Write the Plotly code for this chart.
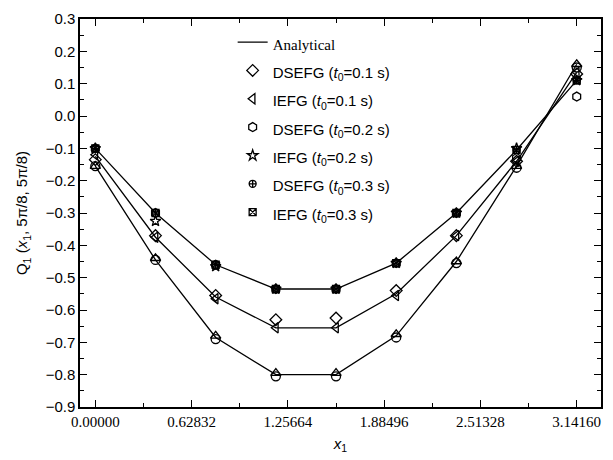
import numpy as np
import plotly.graph_objects as go

pi = np.pi
x = [k * pi / 8 for k in range(9)]

# Analytical curves
ana_top = [-0.10, -0.30, -0.46, -0.535, -0.535, -0.455, -0.30, -0.105, 0.11]
ana_mid = [-0.125, -0.375, -0.56, -0.655, -0.655, -0.55, -0.37, -0.14, 0.135]
ana_bot = [-0.155, -0.445, -0.685, -0.80, -0.80, -0.68, -0.45, -0.155, 0.16]

# Numerical results
dsefg_01 = [-0.135, -0.37, -0.555, -0.63, -0.625, -0.54, -0.37, -0.14, 0.13]
iefg_01 = [-0.12, -0.375, -0.565, -0.655, -0.655, -0.555, -0.37, -0.14, 0.135]
dsefg_02 = [-0.10, -0.30, -0.46, -0.535, -0.535, -0.455, -0.30, -0.13, 0.06]
iefg_02 = [-0.10, -0.325, -0.465, -0.535, -0.535, -0.455, -0.30, -0.10, 0.11]
dsefg_03 = [-0.10, -0.30, -0.46, -0.535, -0.535, -0.455, -0.30, -0.105, 0.11]
iefg_03 = [-0.10, -0.30, -0.46, -0.535, -0.535, -0.455, -0.30, -0.105, 0.11]
bot_tri = [-0.155, -0.44, -0.68, -0.795, -0.795, -0.675, -0.45, -0.155, 0.16]
bot_circ = [-0.155, -0.445, -0.69, -0.805, -0.805, -0.685, -0.455, -0.16, 0.15]

xtick_vals = [0, 0.62832, 1.25664, 1.88496, 2.51328, 3.14160]
xtick_text = ["0.00000", "0.62832", "1.25664", "1.88496", "2.51328", "3.14160"]
ytick_vals = [0.3, 0.2, 0.1, 0.0, -0.1, -0.2, -0.3, -0.4, -0.5, -0.6, -0.7, -0.8, -0.9]

S = '<span style="font-size:15px">'
SS = '<span style="font-size:15px;font-family:Liberation Serif">'
E = '</span>'

fig = go.Figure()
line_style = dict(color="black", width=1.3)
for i, yy in enumerate([ana_top, ana_mid, ana_bot]):
    fig.add_trace(go.Scatter(x=x, y=yy, mode="lines", line=line_style,
                             name=SS + "Analytical" + E, showlegend=(i == 0)))

def mk(sym, yy, name, show=True, size=9):
    fig.add_trace(go.Scatter(
        x=x, y=yy, mode="markers", name=S + name + E, showlegend=show,
        marker=dict(symbol=sym, size=size, color="black",
                    line=dict(color="black", width=1.3))))

mk("diamond-open", dsefg_01, "DSEFG (<i>t</i><sub>0</sub>=0.1 s)")
mk("triangle-left-open", iefg_01, "IEFG (<i>t</i><sub>0</sub>=0.1 s)")
mk("hexagon-open", dsefg_02, "DSEFG (<i>t</i><sub>0</sub>=0.2 s)")
mk("star-open", iefg_02, "IEFG (<i>t</i><sub>0</sub>=0.2 s)", size=8)
mk("circle-cross-open", dsefg_03, "DSEFG (<i>t</i><sub>0</sub>=0.3 s)", size=7)
mk("square-x-open", iefg_03, "IEFG (<i>t</i><sub>0</sub>=0.3 s)", size=7)
mk("triangle-up-open", bot_tri, "tri", show=False)
mk("circle-open", bot_circ, "circ", show=False)

axis_common = dict(showline=True, linecolor="black", linewidth=1.5, mirror="ticks",
                   ticks="inside", ticklen=7, tickwidth=1.2, tickcolor="black",
                   showgrid=False, zeroline=False)

fig.update_xaxes(range=[-0.1, 3.3], tickmode="array", tickvals=xtick_vals, ticktext=xtick_text,
                 tickfont=dict(family="Liberation Serif", size=15, color="black"),
                 minor=dict(ticks="inside", ticklen=4, tickcolor="black", tickwidth=1.2,
                            tickmode="linear", tick0=0.31416, dtick=0.62832),
                 title=dict(text="<i>x</i><sub>1</sub>", standoff=10,
                            font=dict(family="Liberation Sans", size=15, color="black")),
                 **axis_common)
fig.update_yaxes(range=[-0.9, 0.3], tickmode="array", tickvals=ytick_vals, tickformat=".1f",
                 tickfont=dict(family="Liberation Sans", size=15, color="black"),
                 minor=dict(ticks="inside", ticklen=4, tickcolor="black", tickwidth=1.2,
                            tickmode="linear", tick0=0.05, dtick=0.1),
                 title=dict(text="Q<sub>1</sub> (<i>x</i><sub>1</sub>, 5π/8, 5π/8)", standoff=14,
                            font=dict(family="Liberation Sans", size=15, color="black")),
                 **axis_common)

fig.update_layout(
    width=613, height=460,
    margin=dict(l=80, r=10, t=12, b=50),
    plot_bgcolor="white", paper_bgcolor="white",
    legend=dict(x=0.293, y=0.99, xanchor="left", yanchor="top",
                bgcolor="rgba(0,0,0,0)", borderwidth=0,
                font=dict(family="Liberation Sans", size=19.5, color="black"),
                tracegroupgap=0),
    showlegend=True,
)

fig.write_html("out.html")
